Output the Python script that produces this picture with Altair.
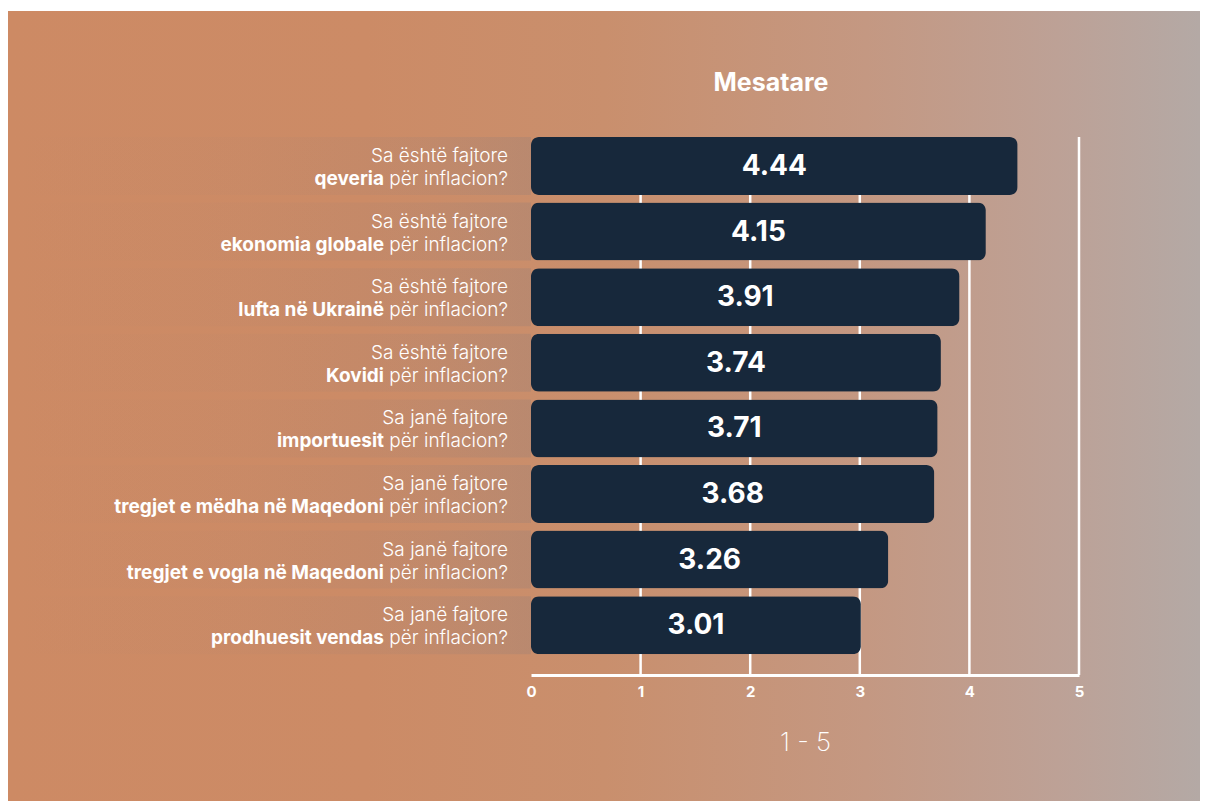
import altair as alt
import pandas as pd

# ---- data ----
prefixes = ["Sa është fajtore", "Sa është fajtore", "Sa është fajtore", "Sa është fajtore",
            "Sa janë fajtore", "Sa janë fajtore", "Sa janë fajtore", "Sa janë fajtore"]
subjects = ["qeveria", "ekonomia globale", "lufta në Ukrainë", "Kovidi",
            "importuesit", "tregjet e mëdha në Maqedoni", "tregjet e vogla në Maqedoni",
            "prodhuesit vendas"]
suffix = "për inflacion?"
values = [4.44, 4.15, 3.91, 3.74, 3.71, 3.68, 3.26, 3.01]
grid_values = [1, 2, 3, 4, 5]
axis_ticks = [0, 1, 2, 3, 4, 5]
title_text = "Mesatare"
axis_title = "1 - 5"

df = pd.DataFrame({
    "key": subjects,
    "prefix": prefixes,
    "subject": subjects,
    "suffix": [suffix] * len(subjects),
    "value": values,
})
grid_df = pd.DataFrame({"g": grid_values})
title_df = pd.DataFrame({"t": [title_text]})

FONT = "Inter"
W, H = 548, 538
PAD = {"left": 523, "top": 129, "right": 121, "bottom": 126}

xscale = alt.Scale(domain=[0, 5], nice=False, zero=True)
yscale = alt.Scale(paddingInner=0.116, paddingOuter=0.1585, align=0)
yenc = alt.Y("key:N", sort=subjects, scale=yscale, axis=None)

bg_grad = alt.Gradient(
    gradient="linear", x1=0, x2=1, y1=0, y2=0,
    stops=[
        alt.GradientStop(color="#cd8a64", offset=0),
        alt.GradientStop(color="#cc8b66", offset=0.3),
        alt.GradientStop(color="#c98f6d", offset=0.5),
        alt.GradientStop(color="#c49882", offset=0.72),
        alt.GradientStop(color="#bda196", offset=0.88),
        alt.GradientStop(color="#b4a9a5", offset=1),
    ],
)

background = alt.Chart(pd.DataFrame({"a": [0]})).mark_rect(color=bg_grad).encode(
    x=alt.value(-PAD["left"]), x2=alt.value(W + PAD["right"]),
    y=alt.value(-PAD["top"] + 3), y2=alt.value(H + PAD["bottom"]),
)

shade_grad = alt.Gradient(
    gradient="linear", x1=0, x2=1, y1=0, y2=0,
    stops=[
        alt.GradientStop(color="rgba(110,115,130,0)", offset=0),
        alt.GradientStop(color="rgba(110,115,130,0.03)", offset=0.45),
        alt.GradientStop(color="rgba(110,115,130,0.10)", offset=0.8),
        alt.GradientStop(color="rgba(110,115,130,0.18)", offset=1),
    ],
)

base = alt.Chart(df)

grid = alt.Chart(grid_df).mark_rule(color="white", strokeWidth=2.5).encode(
    x=alt.X("g:Q", scale=xscale,
            axis=alt.Axis(values=axis_ticks, format="d", grid=False, ticks=False,
                          domain=True, domainColor="white", domainWidth=3,
                          labelColor="white", labelFont=FONT, labelFontWeight="bold",
                          labelFontSize=15, labelPadding=9, labelFlush=False,
                          title=axis_title, titleColor="white", titleFont=FONT,
                          titleFontWeight=200, titleFontSize=26, titlePadding=30,
                          zindex=2)),
)

shade = base.mark_rect(color=shade_grad).encode(
    x=alt.value(-PAD["left"]),
    x2=alt.datum(0),
    y=yenc,
)

bars = base.mark_bar(color="#17283b", cornerRadius=8).encode(
    x=alt.X("value:Q", scale=xscale),
    y=yenc,
)

vals = base.transform_calculate(mid="datum.value / 2").mark_text(
    color="white", font=FONT, fontWeight="bold", fontSize=28, baseline="middle", dy=1
).encode(
    x=alt.X("mid:Q", scale=xscale),
    y=yenc,
    text=alt.Text("value:Q", format=".2f"),
)

line1 = base.mark_text(
    color="white", font=FONT, fontWeight=300, fontSize=19, align="right",
    baseline="alphabetic", dx=-23, dy=-4
).encode(x=alt.datum(0), y=yenc, text="prefix:N")

line2_reg = base.mark_text(
    color="white", font=FONT, fontWeight=300, fontSize=19, align="right",
    baseline="alphabetic", dx=-23, dy=19
).encode(x=alt.datum(0), y=yenc, text="suffix:N")

line2_bold = base.mark_text(
    color="white", font=FONT, fontWeight="bold", fontSize=19, align="right",
    baseline="alphabetic", dx=-147, dy=19
).encode(x=alt.datum(0), y=yenc, text="subject:N")

title = alt.Chart(title_df).mark_text(
    color="white", font=FONT, fontWeight="bold", fontSize=25, align="center",
    baseline="alphabetic"
).encode(x=alt.value(W / 2 - 34), y=alt.value(-46), text="t:N")

chart = alt.layer(background, shade, grid, bars, vals, line1, line2_reg, line2_bold, title).properties(
    width=W, height=H,
    padding=PAD,
    autosize=alt.AutoSizeParams(type="none"),
    background="white",
).configure_view(stroke=None)

chart.save("out.html", embed_options={"renderer": "svg", "actions": False})
